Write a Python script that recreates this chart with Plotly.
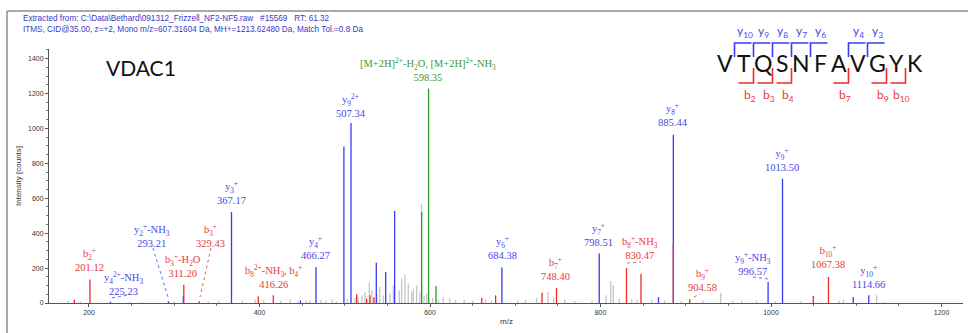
import plotly.graph_objects as go

# ---------------- data ----------------
gray_mz = [175, 190, 248, 262, 300, 340, 352, 380, 395, 405, 425, 436, 445, 455, 459, 472, 478, 485, 490,
           503, 512, 516, 520, 523.8, 528.8, 532, 537.5, 541, 545.3, 553, 557, 564, 566.7, 570.7, 574.5,
           578.5, 580.4, 584.3, 588, 590, 593, 596, 603, 610, 615.5, 623, 630, 640, 650, 665, 672, 703,
           712, 725, 738.5, 745, 758, 770, 790, 806.5, 812, 815, 822, 836.6, 843, 860, 875, 895, 920, 941,
           955, 965.6, 983, 1005, 1035, 1079.8, 1085, 1124, 1132]
gray_h = [12, 10, 8, 6, 9, 10, 12, 14, 20, 18, 15, 22, 12, 14, 16, 18, 15, 20, 12,
          22, 30, 34, 45, 63, 117, 75, 50, 92, 44, 54, 101, 73, 140, 163, 111,
          63, 82, 101, 60, 569, 40, 54, 30, 20, 34, 27, 15, 18, 12, 20, 14, 15,
          18, 30, 63, 35, 20, 12, 15, 44, 124, 101, 25, 25, 18, 20, 15, 12, 15, 59,
          12, 15, 15, 12, 10, 15, 20, 44, 8]

blue_mz = [225.23, 293.21, 310.6, 367.17, 448, 466.27, 499, 507.34, 537, 548, 558.5, 684.38,
           798.51, 868, 885.44, 996.57, 1013.5, 1096.5, 1114.66]
blue_h = [8, 10, 38, 521, 15, 206, 897, 1031, 231, 178, 527, 203,
          283, 34, 964, 120, 712, 34, 44]

red_mz = [182.8, 201.12, 311.2, 329.43, 398.6, 416.26, 514, 525.7, 529.6, 534.3, 660.7, 677,
          731.4, 748.4, 830.47, 847.5, 885.44, 904.58, 1049.6, 1067.38]
red_h = [19, 134, 105, 10, 38, 44, 50, 25, 44, 33, 29, 44,
         59, 86, 200, 168, 340, 21, 40, 149]

green_mz = [590.2, 598.35, 607]
green_h = [521, 1228, 97]

label_names = [
    "b<sub>2</sub><sup>+</sup>",
    "y<sub>4</sub><sup>2+</sup>-NH<sub>3</sub>",
    "y<sub>2</sub><sup>+</sup>-NH<sub>3</sub>",
    "b<sub>3</sub><sup>+</sup>-H<sub>2</sub>O",
    "b<sub>3</sub><sup>+</sup>",
    "y<sub>3</sub><sup>+</sup>",
    "b<sub>8</sub><sup>2+</sup>-NH<sub>3</sub>, b<sub>4</sub><sup>+</sup>",
    "y<sub>4</sub><sup>+</sup>",
    "y<sub>9</sub><sup>2+</sup>",
    "[M+2H]<sup>2+</sup>-H<sub>2</sub>O, [M+2H]<sup>2+</sup>-NH<sub>3</sub>",
    "y<sub>6</sub><sup>+</sup>",
    "b<sub>7</sub><sup>+</sup>",
    "y<sub>7</sub><sup>+</sup>",
    "b<sub>8</sub><sup>+</sup>-NH<sub>3</sub>",
    "y<sub>8</sub><sup>+</sup>",
    "b<sub>9</sub><sup>+</sup>",
    "y<sub>9</sub><sup>+</sup>-NH<sub>3</sub>",
    "y<sub>9</sub><sup>+</sup>",
    "b<sub>10</sub><sup>+</sup>",
    "y<sub>10</sub><sup>+</sup>",
]
label_values = ["201.12", "225.23", "293.21", "311.20", "329.43", "367.17", "416.26", "466.27",
                "507.34", "598.35", "684.38", "748.40", "798.51", "830.47", "885.44", "904.58",
                "996.57", "1013.50", "1067.38", "1114.66"]
label_kind = ["b", "y", "y", "b", "b", "y", "b", "y", "y", "m", "y", "b", "y", "b", "y", "b",
              "y", "y", "b", "y"]
# label centres (pixel positions in the 968x333 picture)
label_px = [89, 123, 152, 183, 210, 231, 273, 315, 351, 428, 502, 555, 598, 640, 673, 702, 753, 782, 828, 868]
label_py = [259, 283, 235, 265, 235, 192, 276, 247, 105, 69, 247, 268, 234, 247, 114, 279, 263, 159, 256, 276]

# leader lines (pixel coordinates): x0, y0, x1, y1, kind
leaders = [
    (112, 298, 128, 295, "y"),
    (153, 248, 168, 297, "y"),
    (211, 248, 200, 297, "b"),
    (627, 263, 641, 262, "b"),
    (694, 297, 700, 294, "b"),
    (753, 277, 768, 279, "y"),
]

sequence = "VTQSNFAVGYK"
y_ions = [10, 9, 8, 7, 6, 4, 3]
b_ions = [2, 3, 4, 7, 9, 10]

# ---------------- layout constants ----------------
W, H = 968, 333
ML, MR, MT, MB = 49, 5, 49, 30
X0, X1 = 153.1, 1225.2
Y1 = 1455
PW, PH = W - ML - MR, H - MT - MB

BLUE = "#3b3bf2"
RED = "#ee2a2a"
GREEN = "#2a9a2a"
GRAY = "#c6c6c6"
TBLUE = "#4747e8"
TRED = "#e83a3a"
TGREEN = "#3a9a3a"
kind_col = {"y": TBLUE, "b": TRED, "m": TGREEN}


def px2x(px):
    return X0 + (px - ML) / PW * (X1 - X0)


def py2y(py):
    return (H - MB - py) / PH * Y1


def pxp(px):
    return (px - ML) / PW


def pyp(py):
    return (H - MB - py) / PH


def sticks(mz, h):
    xs, ys = [], []
    for m, v in zip(mz, h):
        xs += [m, m, None]
        ys += [0, v, None]
    return xs, ys


fig = go.Figure()
for mz, h, col in [(gray_mz, gray_h, GRAY), (blue_mz, blue_h, BLUE),
                   (red_mz, red_h, RED), (green_mz, green_h, GREEN)]:
    xs, ys = sticks(mz, h)
    fig.add_trace(go.Scatter(x=xs, y=ys, mode="lines", line=dict(color=col, width=1.3),
                             hoverinfo="skip", showlegend=False))

ann = []
shapes = []

# peak labels
for name, val, kind, px, py in zip(label_names, label_values, label_kind, label_px, label_py):
    ann.append(dict(x=px2x(px), y=py2y(py), xref="x", yref="y", text=name + "<br>" + val,
                    showarrow=False, xanchor="center", yanchor="middle",
                    font=dict(family="Liberation Serif", size=10.5, color=kind_col[kind])))

for x0, y0, x1, y1, kind in leaders:
    shapes.append(dict(type="line", xref="x", yref="y", x0=px2x(x0), y0=py2y(y0),
                       x1=px2x(x1), y1=py2y(y1),
                       line=dict(color=kind_col[kind], width=0.8, dash="dot")))

# header
ann.append(dict(x=pxp(21), y=pyp(19), xref="paper", yref="paper", showarrow=False,
                xanchor="left", yanchor="middle",
                text="Extracted from: C:\\Data\\Bethard\\091312_Frizzell_NF2-NF5.raw   #15569   RT: 61.32",
                font=dict(family="Liberation Sans", size=8.2, color="#3a3ac8")))
ann.append(dict(x=pxp(21), y=pyp(29.5), xref="paper", yref="paper", showarrow=False,
                xanchor="left", yanchor="middle",
                text="ITMS, CID@35.00, z=+2, Mono m/z=607.31604 Da, MH+=1213.62480 Da, Match Tol.=0.8 Da",
                font=dict(family="Liberation Sans", size=8.2, color="#3a3ac8")))

# protein name
ann.append(dict(x=pxp(104), y=pyp(67), xref="paper", yref="paper", showarrow=False,
                xanchor="left", yanchor="middle", text="VDAC1",
                font=dict(family="Lato", size=21, color="#111111")))

# sequence with fragment brackets
C0, STEP = 725, 19
for i, ch in enumerate(sequence):
    ann.append(dict(x=pxp(C0 + STEP * i), y=pyp(63), xref="paper", yref="paper", showarrow=False,
                    xanchor="center", yanchor="middle", text=ch,
                    font=dict(family="Lato", size=23, color="#111111")))

for n in y_ions:
    k = len(sequence) - n
    xc = C0 + STEP * (k - 1) + STEP / 2
    shapes.append(dict(type="path", xref="paper", yref="paper",
                       path=f"M {pxp(xc)} {pyp(57)} L {pxp(xc)} {pyp(43)} L {pxp(xc + 17)} {pyp(43)}",
                       line=dict(color=BLUE, width=1.6)))
    ann.append(dict(x=pxp(xc + 10), y=pyp(32), xref="paper", yref="paper", showarrow=False,
                    xanchor="center", yanchor="middle", text=f"y<sub>{n}</sub>",
                    font=dict(family="Lato", size=12, color=TBLUE)))

for n in b_ions:
    xc = C0 + STEP * (n - 1) + STEP / 2
    shapes.append(dict(type="path", xref="paper", yref="paper",
                       path=f"M {pxp(xc)} {pyp(68)} L {pxp(xc)} {pyp(83)} L {pxp(xc - 15)} {pyp(83)}",
                       line=dict(color=RED, width=1.6)))
    ann.append(dict(x=pxp(xc - 4), y=pyp(95), xref="paper", yref="paper", showarrow=False,
                    xanchor="center", yanchor="middle", text=f"b<sub>{n}</sub>",
                    font=dict(family="Lato", size=12, color=TRED)))

# axis titles
ann.append(dict(x=pxp(18), y=0.5, xref="paper", yref="paper", showarrow=False, textangle=-90,
                xanchor="center", yanchor="middle", text="Intensity [counts]",
                font=dict(family="Liberation Sans", size=8, color="#333333")))
ann.append(dict(x=0.5, y=pyp(321), xref="paper", yref="paper", showarrow=False,
                xanchor="center", yanchor="middle", text="m/z",
                font=dict(family="Liberation Sans", size=8, color="#333333")))

# outer frame (left and top)
shapes.append(dict(type="line", xref="paper", yref="paper", x0=pxp(7), x1=pxp(7), y0=pyp(11), y1=pyp(340),
                   line=dict(color="#8c8c8c", width=1.5)))
shapes.append(dict(type="line", xref="paper", yref="paper", x0=pxp(7), x1=pxp(975), y0=pyp(11), y1=pyp(11),
                   line=dict(color="#8c8c8c", width=1.5)))

fig.update_layout(
    width=W, height=H,
    margin=dict(l=ML, r=MR, t=MT, b=MB),
    paper_bgcolor="white", plot_bgcolor="white",
    annotations=ann, shapes=shapes,
    xaxis=dict(range=[X0, X1], showgrid=False, zeroline=False, showline=True, linecolor="#555555",
               linewidth=1, ticks="outside", ticklen=3, tickcolor="#555555", tickwidth=1,
               tickvals=[200, 400, 600, 800, 1000, 1200],
               minor=dict(dtick=50, ticks="outside", ticklen=2, tickcolor="#777777", showgrid=False),
               tickfont=dict(family="Liberation Sans", size=7, color="#333333")),
    yaxis=dict(range=[0, Y1], showgrid=False, zeroline=False, showline=True, linecolor="#555555",
               linewidth=1, ticks="outside", ticklen=3, tickcolor="#555555", tickwidth=1,
               tickvals=[0, 200, 400, 600, 800, 1000, 1200, 1400],
               minor=dict(dtick=50, ticks="outside", ticklen=2, tickcolor="#777777", showgrid=False),
               tickfont=dict(family="Liberation Sans", size=7, color="#333333")),
)

fig.write_html("out.html", config={"displayModeBar": False},
               post_script="document.body.style.margin='0';document.body.style.overflow='hidden';")
